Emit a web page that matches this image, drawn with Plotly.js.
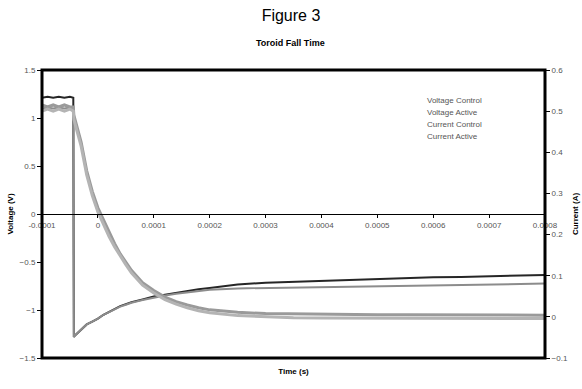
<!DOCTYPE html>
<html>
<head>
<meta charset="utf-8">
<script src="https://cdn.plot.ly/plotly-3.0.1.min.js"></script>
<style>html,body{margin:0;padding:0;background:#fff;}#chart{width:582px;height:389px;}</style>
</head>
<body>
<div id="chart"></div>
<script>
// Time (s)
var time = [-0.0001,-0.00009,-0.00008,-0.00007,-0.00006,-0.00005,-0.000044,-0.000043,-0.00004,-0.00003,-0.00002,-0.00001,0,0.00001,0.00002,0.00003,0.00004,0.00005,0.00006,0.00008,0.0001,0.00012,0.00014,0.00016,0.00018,0.0002,0.00025,0.0003,0.00035,0.0004,0.00045,0.0005,0.00055,0.0006,0.00065,0.0007,0.00075,0.0008];
// Voltage (V)
var voltageControl = [1.21,1.22,1.21,1.22,1.21,1.22,1.21,-1.28,-1.26,-1.20,-1.15,-1.12,-1.09,-1.05,-1.02,-0.99,-0.96,-0.94,-0.92,-0.89,-0.86,-0.84,-0.82,-0.80,-0.785,-0.77,-0.735,-0.715,-0.705,-0.70,-0.69,-0.68,-0.67,-0.66,-0.655,-0.65,-0.645,-0.635];
var voltageActive = [1.10,1.11,1.10,1.11,1.10,1.11,1.10,-1.28,-1.26,-1.20,-1.15,-1.12,-1.09,-1.05,-1.02,-0.99,-0.965,-0.945,-0.925,-0.895,-0.87,-0.85,-0.83,-0.815,-0.80,-0.79,-0.775,-0.77,-0.765,-0.76,-0.755,-0.75,-0.745,-0.74,-0.74,-0.735,-0.73,-0.725];
// Current (A)
var currentControl = [0.515,0.51,0.515,0.51,0.515,0.51,0.51,0.49,0.475,0.425,0.355,0.305,0.265,0.235,0.205,0.178,0.153,0.133,0.113,0.083,0.064,0.048,0.037,0.029,0.022,0.017,0.011,0.008,0.007,0.006,0.006,0.005,0.005,0.005,0.005,0.004,0.004,0.004];
var currentActive = [0.50,0.505,0.50,0.505,0.50,0.505,0.50,0.48,0.465,0.415,0.345,0.295,0.255,0.225,0.195,0.17,0.147,0.127,0.107,0.077,0.058,0.042,0.031,0.022,0.015,0.01,0.003,0.0,-0.002,-0.003,-0.003,-0.004,-0.004,-0.004,-0.004,-0.004,-0.004,-0.004];
// Tick labels
var xTickVals = [-0.0001,0,0.0001,0.0002,0.0003,0.0004,0.0005,0.0006,0.0007,0.0008];
var xTickText = ['-0.0001','0','0.0001','0.0002','0.0003','0.0004','0.0005','0.0006','0.0007','0.0008'];
var seriesNames = ['Voltage Control','Voltage Active','Current Control','Current Active'];

var FONT = 'Liberation Sans, Arial, sans-serif';

var traces = [
  {x: time, y: voltageControl, name: seriesNames[0], mode: 'lines', yaxis: 'y',
   line: {color: '#262626', width: 2}},
  {x: time, y: voltageActive, name: seriesNames[1], mode: 'lines', yaxis: 'y',
   line: {color: '#8c8c8c', width: 2}},
  {x: time, y: currentControl, name: seriesNames[2], mode: 'lines', yaxis: 'y2',
   line: {color: '#9a9a9a', width: 3}},
  {x: time, y: currentActive, name: seriesNames[3], mode: 'lines', yaxis: 'y2',
   line: {color: '#b4b4b4', width: 3}}
];

// text-only legend (the reference legend shows names without symbols)
var legendAnn = seriesNames.map(function (n, i) {
  return {text: n, xref: 'paper', yref: 'paper', x: 0.7614, y: 0.8958 - i * 0.0417,
          xanchor: 'left', yanchor: 'middle', showarrow: false,
          font: {family: FONT, size: 8, color: '#555'}};
});

var layout = {
  width: 582, height: 389,
  margin: {l: 42, r: 37, t: 70, b: 31, pad: 0},
  paper_bgcolor: '#fff', plot_bgcolor: '#fff',
  font: {family: FONT, size: 8, color: '#444'},
  title: {text: 'Figure 3', font: {family: FONT, size: 16, color: '#000'},
          x: 0.5, xref: 'container', y: 0.961, yref: 'container', yanchor: 'middle'},
  showlegend: false,
  xaxis: {
    range: [-0.0001, 0.0008], anchor: 'free', position: 0.5,
    showgrid: false, zeroline: false,
    showline: true, linecolor: '#000', linewidth: 1,
    ticks: 'outside', ticklen: 3, tickcolor: '#000',
    tickvals: xTickVals, ticktext: xTickText,
    tickfont: {family: FONT, size: 8, color: '#555'},
    title: {text: 'Time (s)', font: {family: FONT, size: 8, color: '#000', weight: 'bold'}, standoff: 139}
  },
  yaxis: {
    range: [-1.5, 1.5], dtick: 0.5, tick0: 0,
    showgrid: false, zeroline: false, showline: false,
    ticks: 'outside', ticklen: 4, tickcolor: '#000',
    tickfont: {family: FONT, size: 8, color: '#555'},
    title: {text: 'Voltage (V)', font: {family: FONT, size: 8, color: '#000', weight: 'bold'}, standoff: 4}
  },
  yaxis2: {
    range: [-0.1, 0.6], dtick: 0.1, tick0: 0,
    overlaying: 'y', side: 'right', anchor: 'x',
    showgrid: false, zeroline: false, showline: false,
    ticks: 'outside', ticklen: 4, tickcolor: '#000',
    tickfont: {family: FONT, size: 8, color: '#555'},
    title: {text: 'Current (A)', font: {family: FONT, size: 8, color: '#000', weight: 'bold'}, standoff: 5}
  },
  shapes: [
    {type: 'rect', xref: 'paper', yref: 'paper', x0: 0, x1: 1, y0: 0, y1: 1,
     line: {color: '#000', width: 3}, layer: 'above'}
  ],
  annotations: [
    {text: 'Toroid Fall Time', xref: 'paper', yref: 'paper', x: 0.495, y: 1.094,
     xanchor: 'center', yanchor: 'middle', showarrow: false,
     font: {family: FONT, size: 9, color: '#000', weight: 'bold'}}
  ].concat(legendAnn)
};

Plotly.newPlot('chart', traces, layout, {displayModeBar: false, staticPlot: true});
</script>
</body>
</html>
